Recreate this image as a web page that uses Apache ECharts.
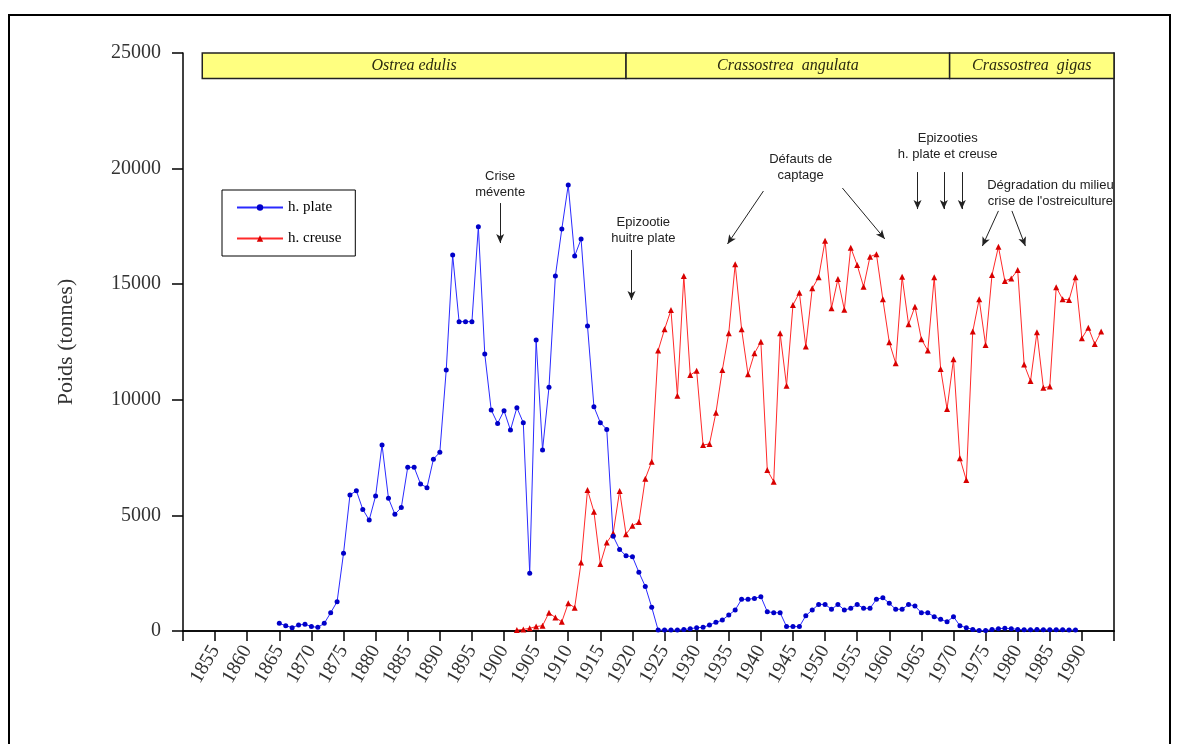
<!DOCTYPE html>
<html>
<head>
<meta charset="utf-8">
<title>Production d'huîtres</title>
<script src="https://cdn.jsdelivr.net/npm/echarts@6/dist/echarts.min.js"></script>
<style>
  html, body { margin: 0; padding: 0; background: #fff; }
  #chart { width: 1178px; height: 744px; }
</style>
</head>
<body>
<div id="chart"></div>
<script>
// h. plate (Ostrea edulis), tonnes per year from 1865
const plateStart = 1865
const plateValues = [
  330, 230, 145, 260, 290, 190, 160, 330, 790, 1270,
  3360, 5880, 6070, 5260, 4800, 5840, 8050, 5740, 5050, 5340,
  7080, 7080, 6360, 6200, 7430, 7730, 11290, 16260, 13380, 13380,
  13380, 17490, 11980, 9560, 8980, 9530, 8690, 9660, 9010, 2500,
  12590, 7830, 10540, 15360, 17390, 19290, 16220, 16950, 13190, 9700,
  9010, 8720, 4100, 3530, 3250, 3215, 2540, 1930, 1030, 40,
  40, 40, 40, 60, 100, 140, 160, 260, 375, 475,
  690, 910, 1370, 1370, 1410, 1485, 835, 790, 790, 190,
  190, 190, 660, 910, 1150, 1150, 940, 1150, 910, 980,
  1150, 980, 980, 1370, 1440, 1200, 940, 940, 1150, 1080,
  790, 790, 620, 505, 400, 620, 230, 140, 70, 20,
  20, 60, 100, 120, 100, 70, 50, 50, 60, 50,
  50, 50, 50, 40, 40
]

// h. creuse (Crassostrea), tonnes per year from 1902
const creuseStart = 1902
const creuseValues = [
  40, 70, 115, 190, 230, 790, 580, 400, 1200, 1010,
  2960, 6100, 5160, 2900, 3830, 4225, 6060, 4190, 4550, 4710,
  6590, 7325, 12130, 13050, 13880, 10180, 15360, 11070, 11260, 8045,
  8090, 9440, 11290, 12880, 15860, 13050, 11100, 12010, 12510, 6960,
  6460, 12880, 10610, 14100, 14630, 12300, 14820, 15300, 16880, 13960,
  15220, 13900, 16580, 15830, 14890, 16190, 16300, 14350, 12490, 11580,
  15320, 13270, 14030, 12620, 12130, 15300, 11330, 9600, 11750, 7470,
  6530, 12950, 14350, 12370, 15400, 16620, 15140, 15250, 15610, 11530,
  10810, 12920, 10520, 10570, 14870, 14350, 14320, 15300, 12660, 13120,
  12410, 12950
]

// species bands along the top
const periodNames = ['Ostrea edulis', 'Crassostrea  angulata', 'Crassostrea  gigas']
const periodBounds = [1853, 1919, 1969.4, 1995]

// notes: text, its centre, arrows [from, to] in (year, tonnes)
const noteTexts = [
  'Crise\nmévente',
  'Epizootie\nhuitre plate',
  'Défauts de\ncaptage',
  'Epizooties\nh. plate et creuse',
  'Dégradation du milieu\ncrise de l\'ostreiculture'
]
const noteAt = [[1899.4, 19330], [1921.7, 17320], [1946.2, 20030], [1969.1, 20960], [1985.1, 18940]]
const noteArrows = [
  [[1899.4, 18510], [1899.4, 16780]],
  [[1919.85, 16480], [1919.85, 14320]],
  [[1940.4, 19030], [1934.8, 16740]],
  [[1952.7, 19160], [1959.3, 16960]],
  [[1964.4, 19850], [1964.4, 18250]],
  [[1968.5, 19850], [1968.5, 18250]],
  [[1971.3, 19850], [1971.3, 18250]],
  [[1977.0, 18170], [1974.5, 16650]],
  [[1979.1, 18170], [1981.2, 16650]]
]

const toPairs = (start, values) => values.map((v, i) => [start + i, v])

const serif = '"Liberation Serif", "DejaVu Serif", serif'

const option = {
  animation: false,
  backgroundColor: '#fff',
  grid: { left: 183, right: 64, top: 53, bottom: 113 },
  legend: {
    left: 222,
    top: 190,
    orient: 'vertical',
    padding: [10, 14, 10, 14],
    itemGap: 16,
    itemWidth: 46,
    itemHeight: 8,
    borderColor: '#000',
    borderWidth: 1,
    backgroundColor: '#fff',
    textStyle: { fontFamily: serif, fontSize: 15, color: '#000' },
    data: ['h. plate', 'h. creuse']
  },
  xAxis: [
    {
      type: 'value',
      min: 1850,
      max: 1995,
      interval: 5,
      splitLine: { show: false },
      axisLine: { lineStyle: { color: '#000', width: 1.5 } },
      axisTick: { length: 10, lineStyle: { color: '#000', width: 1.5 } },
      axisLabel: {
        rotate: 60,
        margin: 16,
        color: '#333',
        fontFamily: serif,
        fontSize: 20,
        formatter: (v) => (v === 1850 || v === 1995 ? '' : String(v))
      }
    },
    {
      type: 'value',
      position: 'top',
      min: 1850,
      max: 1995,
      splitLine: { show: false },
      axisLine: { lineStyle: { color: '#000', width: 1.5 } },
      axisTick: { show: false },
      axisLabel: { show: false }
    }
  ],
  yAxis: [
    {
      type: 'value',
      min: 0,
      max: 25000,
      interval: 5000,
      name: 'Poids (tonnes)',
      nameLocation: 'middle',
      nameRotate: 90,
      nameGap: 106,
      nameTextStyle: { fontFamily: serif, fontSize: 22, color: '#333' },
      splitLine: { show: false },
      axisLine: { show: true, lineStyle: { color: '#000', width: 1.5 } },
      axisTick: { show: true, length: 11, lineStyle: { color: '#000', width: 1.5 } },
      axisLabel: {
        margin: 22,
        color: '#333',
        fontFamily: serif,
        fontSize: 20,
        formatter: (v) => String(v)
      }
    },
    {
      type: 'value',
      position: 'right',
      min: 0,
      max: 25000,
      splitLine: { show: false },
      axisLine: { show: true, lineStyle: { color: '#000', width: 1.5 } },
      axisTick: { show: false },
      axisLabel: { show: false }
    }
  ],
  series: [
    {
      name: 'h. creuse',
      type: 'line',
      data: toPairs(creuseStart, creuseValues),
      symbol: 'triangle',
      symbolSize: 6,
      showAllSymbol: true,
      lineStyle: { color: '#ff2a2a', width: 1 },
      itemStyle: { color: '#d80000' },
      markArea: {
        silent: true,
        itemStyle: { color: '#ffff80', borderColor: '#222', borderWidth: 1.5 },
        label: {
          show: true,
          position: 'inside',
          fontFamily: serif,
          fontStyle: 'italic',
          fontSize: 16,
          color: '#2a2a10'
        },
        data: periodNames.map((n, i) => [
          { name: n, xAxis: periodBounds[i], yAxis: 23900 },
          { xAxis: periodBounds[i + 1], yAxis: 25000 }
        ])
      },
      markLine: {
        silent: true,
        symbol: ['none', 'arrow'],
        symbolSize: [6, 9],
        label: { show: false },
        lineStyle: { color: '#222', width: 1, type: 'solid' },
        data: noteArrows.map((a) => [{ coord: a[0] }, { coord: a[1] }])
      }
    },
    {
      name: 'h. plate',
      type: 'line',
      data: toPairs(plateStart, plateValues),
      symbol: 'circle',
      symbolSize: 5,
      showAllSymbol: true,
      lineStyle: { color: '#2a2aff', width: 1 },
      itemStyle: { color: '#0000c8' }
    }
  ]
}

const chart = echarts.init(document.getElementById('chart'))
chart.setOption(option)

// outer frame and the note texts, placed from data coords
const notes = noteTexts.map((t, i) => {
  const p = chart.convertToPixel({ xAxisIndex: 0, yAxisIndex: 0 }, noteAt[i])
  return {
    type: 'text',
    x: p[0],
    y: p[1],
    silent: true,
    style: {
      text: t,
      fill: '#222',
      font: '13px "Liberation Sans", Arial, sans-serif',
      lineHeight: 16,
      align: 'center',
      verticalAlign: 'middle'
    }
  }
})

chart.setOption({
  graphic: [
    {
      type: 'rect',
      silent: true,
      shape: { x: 9, y: 15, width: 1161, height: 760 },
      style: { fill: 'none', stroke: '#000', lineWidth: 2 }
    },
    ...notes
  ]
})
</script>
</body>
</html>
